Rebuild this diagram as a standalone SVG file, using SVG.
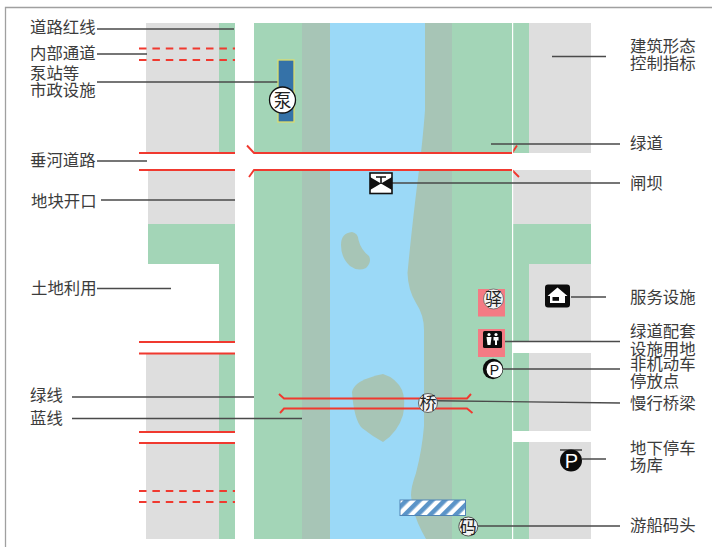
<svg xmlns="http://www.w3.org/2000/svg" width="712" height="547" viewBox="0 0 712 547">
<style>
.gr{fill:#a3d5b7}.gy{fill:#dedede}.bk{fill:#a7c5b6}.wt{fill:#9bd9f7}
.red{fill:none;stroke:#f0392f;stroke-width:1.900}
.dash{stroke-dasharray:7.500 5.900}
.lead{fill:none;stroke:#4a4a4a;stroke-width:1.400}
text{font-family:"Noto Sans CJK SC","Noto Sans",sans-serif;font-size:16.400px;fill:#3c3c3c}
.ic{font-size:17px;fill:#222;text-anchor:middle}
.pk{fill:#f47b84}
</style>
<defs>
<pattern id="hatch" width="9" height="9" patternUnits="userSpaceOnUse" patternTransform="rotate(45)">
<rect width="9" height="9" fill="#fff"/><rect width="4.600" height="9" fill="#5b94c8"/>
</pattern>
</defs>
<rect width="712" height="547" fill="#fff"/>
<path d="M712 7.500H5.500V547" fill="none" stroke="#a0a0a0" stroke-width="1.300"/>
<g id="landuse">
<rect class="gy" x="146" y="23" width="73" height="130"/>
<rect class="gr" x="219" y="23" width="16" height="130"/>
<rect class="gy" x="148" y="170" width="87" height="54"/>
<rect class="gr" x="148" y="224" width="87" height="40"/>
<rect class="gr" x="219" y="264" width="16" height="78"/>
<rect class="gy" x="146" y="353" width="73" height="79"/>
<rect class="gr" x="219" y="353" width="16" height="79"/>
<rect class="gy" x="146" y="443" width="73" height="96"/>
<rect class="gr" x="219" y="443" width="16" height="96"/>
<rect class="gr" x="254" y="23" width="258" height="130"/>
<rect class="gr" x="254" y="170" width="258" height="369"/>
<rect class="gr" x="513" y="23" width="16" height="130"/>
<rect class="gy" x="529" y="23" width="62" height="130"/>
<rect class="gy" x="513" y="170" width="78" height="54"/>
<rect class="gr" x="513" y="224" width="78" height="40"/>
<rect class="gr" x="513" y="264" width="16" height="78"/>
<rect class="gy" x="529" y="264" width="62" height="78"/>
<rect class="gr" x="513" y="353" width="16" height="78"/>
<rect class="gy" x="529" y="353" width="62" height="78"/>
<rect class="gr" x="513" y="442" width="16" height="97"/>
<rect class="gy" x="529" y="442" width="62" height="97"/>
</g>
<g id="river">
<path class="bk" d="M302 23H452V153H302ZM302 170H452V539H302Z"/>
<path class="wt" d="M330 23H425V110Q424 125 421 153H330ZM330 170H419Q412 225 407.500 273Q408 290 416 303Q424 315 424 330V426Q422 450 416 473Q411 487 411 495Q412 515 426 539H330Z"/>
<path class="bk" d="M341 245Q341 233 352 232Q358 233 358.500 240Q361 250 369 256Q372 262 366 268Q358 272 350 266Q341 258 341 245Z"/>
<path class="bk" d="M352 392Q354 380 383 374Q396 378 402 390Q406 400 403 415Q398 432 383 442Q372 436 362 428Q354 420 352 392Z"/>
</g>
<g id="roads">
<path class="red" d="M139 153H235M139 170H235M247 145.500L254 153H512L517 145.500M249 177L254 170H512L519 177"/>
<path class="red dash" d="M139 48.500H235M139 60H235M139 491H235M139 502H235"/>
<path class="red" d="M139 342H235M139 353.500H235M139 432H235M139 443H235"/>
<path class="red" d="M279 394L284 398.500H467L471 394M280 413L284 408.500H467L472.500 413"/>
</g>
<rect x="512" y="23" width="1.200" height="516" fill="#fff"/>
<g id="connectors">
<path class="lead" d="M97 29H234M97 54H147M97 82H278M97 161H147M101 200H235M97 288.500H171M72 397H254M72 418.500H302M552 56.500H606M491 144H620M390 183H620M571 297H606M503 341.500H620M503 369H620M436 400.700L620 403M582 459H606M478 526H620"/>
</g>
<g id="pump-station">
<rect x="278" y="60" width="16" height="62" fill="#3572a8" stroke="#dcdc6e" stroke-width="1.300"/>
<circle cx="282.500" cy="100" r="13" fill="#fff" stroke="#111" stroke-width="1.300"/>
<text class="ic" x="282.500" y="106.500" style="font-size:18px">泵</text>
</g>
<g id="dam">
<rect x="370" y="173" width="22" height="20.500" fill="#fff" stroke="#111" stroke-width="1.600"/>
<path d="M370 177L381 183.500L370 190ZM392 177L381 183.500L392 190Z" fill="#111"/>
<path d="M376 177H386M381 177V184" fill="none" stroke="#111" stroke-width="1.600"/>
</g>
<g id="courier-station">
<rect class="pk" x="478" y="289" width="27" height="27.500"/>
<circle cx="493.500" cy="299" r="10" fill="#f4f4f4" stroke="#666" stroke-width=".8"/>
<text class="ic" x="493.500" y="305">驿</text>
</g>
<g id="toilet">
<rect class="pk" x="478" y="329" width="27" height="28"/>
<rect x="483" y="331" width="19" height="17" rx="1.500" fill="#0c0c0c"/>
<g fill="#fff"><circle cx="489" cy="334.500" r="1.600"/><path d="M486.500 337H491.500L490.500 345H487.500Z"/><circle cx="496" cy="334.500" r="1.600"/><path d="M493.500 337H498.500V340.500H497V345H495V340.500H493.500Z"/></g>
</g>
<g id="bike-parking">
<circle cx="493" cy="369" r="10.200" fill="#0c0c0c"/>
<circle cx="494.500" cy="369.500" r="8" fill="#fff"/>
<text x="494.500" y="374.500" style="font-size:14px;fill:#111;text-anchor:middle;font-family:'Liberation Sans',sans-serif">P</text>
</g>
<g id="service">
<rect x="545" y="284.500" width="25" height="23" rx="3" fill="#0c0c0c"/>
<path d="M557.500 287.500L547.500 296H550V303H565V296H567.500Z" fill="#fff"/>
<rect x="552.500" y="297" width="6.500" height="3.800" fill="#0c0c0c"/>
</g>
<g id="underground-parking">
<path d="M560 450H582" stroke="#111" stroke-width="1.200"/>
<circle cx="571" cy="460.500" r="11" fill="#0c0c0c"/>
<text x="571.500" y="467.500" style="font-size:20px;fill:#fff;text-anchor:middle;font-family:'Liberation Sans',sans-serif">P</text>
</g>
<g id="bridge">
<circle cx="428" cy="403" r="9.500" fill="#f4f4f4" stroke="#555" stroke-width=".9"/>
<text class="ic" x="428" y="409">桥</text>
</g>
<g id="wharf">
<rect x="400" y="500" width="65.500" height="15.500" fill="url(#hatch)" stroke="#4f83b5" stroke-width="1"/>
<circle cx="468.300" cy="526.500" r="9.500" fill="#f4f4f4" stroke="#444" stroke-width=".9"/>
<text class="ic" x="468.300" y="532.500">码</text>
</g>
<g id="labels-left">
<text x="30" y="33">道路红线</text>
<text x="30" y="59">内部通道</text>
<text x="30" y="79">泵站等</text>
<text x="30" y="96">市政设施</text>
<text x="30" y="166">垂河道路</text>
<text x="31" y="207">地块开口</text>
<text x="31" y="294">土地利用</text>
<text x="30" y="400.500">绿线</text>
<text x="30" y="423.500">蓝线</text>
</g>
<g id="labels-right">
<text x="630" y="52">建筑形态</text>
<text x="630" y="69">控制指标</text>
<text x="630" y="149">绿道</text>
<text x="630" y="189">闸坝</text>
<text x="630" y="303">服务设施</text>
<text x="630" y="337">绿道配套</text>
<text x="630" y="354.500">设施用地</text>
<text x="630" y="370">非机动车</text>
<text x="630" y="387">停放点</text>
<text x="630" y="409">慢行桥梁</text>
<text x="630" y="454">地下停车</text>
<text x="630" y="471">场库</text>
<text x="630" y="531">游船码头</text>
</g>
</svg>
